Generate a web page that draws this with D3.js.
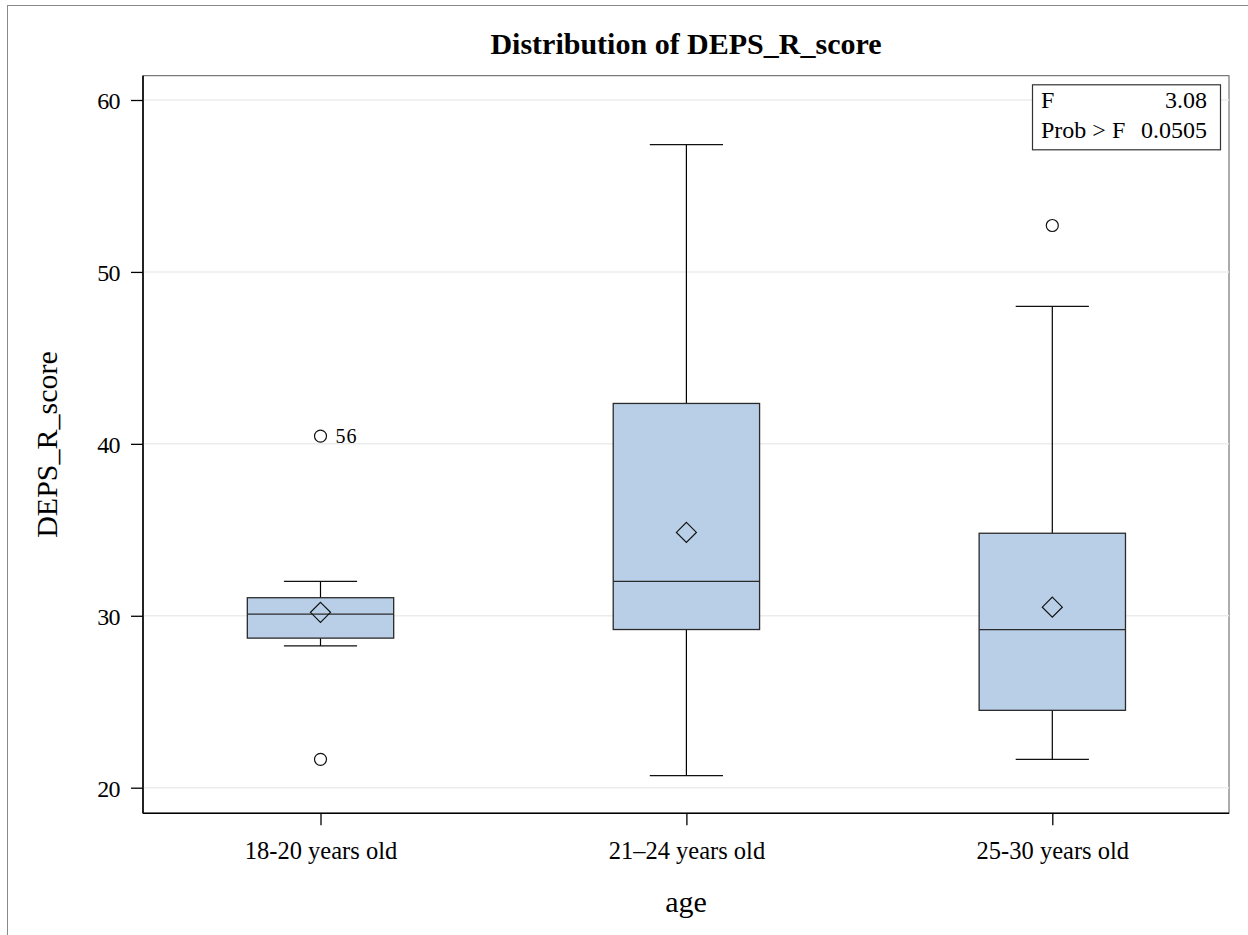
<!DOCTYPE html>
<html>
<head>
<meta charset="utf-8">
<script src="https://cdn.jsdelivr.net/npm/d3@7"></script>
<style>
  html, body { margin: 0; padding: 0; background: #ffffff; }
  svg { display: block; }
  text { font-family: "Liberation Serif", "Times New Roman", Times, serif; fill: #000; }
</style>
</head>
<body>
<svg id="chart" width="1248" height="935"></svg>
<script>
// Age groups and the five-number summaries of DEPS_R_score per group
const categories = ["18-20 years old", "21\u201324 years old", "25-30 years old"];
const whiskerLow  = [28.25, 20.7, 21.65];
const q1          = [28.7, 29.2, 24.5];
const medians     = [30.1, 32.0, 29.2];
const q3          = [31.05, 42.35, 34.8];
const whiskerHigh = [32.0, 57.4, 48.0];
const means       = [30.2, 34.85, 30.5];

// Outlying observations (group index, value, observation id)
const outlierGroups = [0, 0, 2];
const outlierValues = [40.45, 21.65, 52.7];
const outlierIds    = ["56", "", ""];

// ANOVA inset
const statLabels = ["F", "Prob > F"];
const statValues = ["3.08", "0.0505"];

const yTicks = [20, 30, 40, 50, 60];

const serif = "'Liberation Serif', 'Times New Roman', Times, serif";
const svg = d3.select("#chart");

// Layout of the plot wall
const wall = { left: 143, right: 1229, top: 75.7, bottom: 813.3 };

const y = d3.scaleLinear().domain([20, 60]).range([787.7, 100]);
const x = d3.scalePoint().domain(categories).range([320.5, 1052.3]);
const boxW = x.step() * 0.4;
const capW = boxW / 2;

// Outer graph frame
svg.append("rect")
  .attr("x", 7.5).attr("y", 5.5)
  .attr("width", 1260).attr("height", 950)
  .attr("fill", "none").attr("stroke", "#8a8a8a").attr("stroke-width", 1);

// Title
svg.append("text")
  .attr("x", (wall.left + wall.right) / 2).attr("y", 54)
  .attr("text-anchor", "middle")
  .attr("font-family", serif)
  .style("font-size", "30px").style("font-weight", "bold")
  .text("Distribution of DEPS_R_score");

// Wall background and frame
svg.append("rect")
  .attr("x", wall.left).attr("y", wall.top)
  .attr("width", wall.right - wall.left).attr("height", wall.bottom - wall.top)
  .attr("fill", "#ffffff").attr("stroke", "#5a5a5a").attr("stroke-width", 1);

// Horizontal grid lines
svg.append("g")
  .selectAll("line").data(yTicks).join("line")
  .attr("x1", wall.left).attr("x2", wall.right)
  .attr("y1", d => y(d)).attr("y2", d => y(d))
  .attr("stroke", "#ececec").attr("stroke-width", 1.5);

// Y axis
const yAxis = svg.append("g")
  .attr("transform", `translate(${wall.left},0)`)
  .call(d3.axisLeft(y).tickValues(yTicks).tickSize(12).tickPadding(11).tickFormat(d3.format("d")))
  .attr("font-family", serif);
yAxis.select(".domain").remove();
yAxis.selectAll(".tick line").attr("stroke", "#000").attr("stroke-width", 1.3);
yAxis.selectAll(".tick text")
  .style("font-size", "24px")
  .style("letter-spacing", "-0.6px")
  .attr("dy", "0.36em");

// X axis
const xAxis = svg.append("g")
  .attr("transform", `translate(0,${wall.bottom})`)
  .call(d3.axisBottom(x).tickSize(12).tickPadding(16))
  .attr("font-family", serif);
xAxis.select(".domain").remove();
xAxis.selectAll(".tick line").attr("stroke", "#000").attr("stroke-width", 1.3);
xAxis.selectAll(".tick text")
  .style("font-size", "24.5px")
  .attr("dy", "0.71em");

// Axis lines
svg.append("line")
  .attr("x1", wall.left).attr("x2", wall.left)
  .attr("y1", wall.top).attr("y2", wall.bottom)
  .attr("stroke", "#000").attr("stroke-width", 1.6);
svg.append("line")
  .attr("x1", wall.left).attr("x2", wall.right)
  .attr("y1", wall.bottom).attr("y2", wall.bottom)
  .attr("stroke", "#000").attr("stroke-width", 1.6);

// Axis labels
svg.append("text")
  .attr("transform", `translate(57,${(wall.top + wall.bottom) / 2}) rotate(-90)`)
  .attr("text-anchor", "middle")
  .attr("font-family", serif)
  .style("font-size", "30px")
  .text("DEPS_R_score");
svg.append("text")
  .attr("x", (wall.left + wall.right) / 2).attr("y", 912)
  .attr("text-anchor", "middle")
  .attr("font-family", serif)
  .style("font-size", "30px")
  .text("age");

// Box plot elements
const groups = categories.map((c, i) => ({
  cat: c, lo: whiskerLow[i], q1: q1[i], med: medians[i], q3: q3[i], hi: whiskerHigh[i], mean: means[i]
}));

const g = svg.append("g");

// Whisker stems
g.selectAll(".stem-lo").data(groups).join("line")
  .attr("x1", d => x(d.cat)).attr("x2", d => x(d.cat))
  .attr("y1", d => y(d.lo)).attr("y2", d => y(d.q1))
  .attr("stroke", "#000").attr("stroke-width", 1.2);
g.selectAll(".stem-hi").data(groups).join("line")
  .attr("x1", d => x(d.cat)).attr("x2", d => x(d.cat))
  .attr("y1", d => y(d.hi)).attr("y2", d => y(d.q3))
  .attr("stroke", "#000").attr("stroke-width", 1.2);

// Whisker caps
["lo", "hi"].forEach(k => {
  g.selectAll(".cap-" + k).data(groups).join("line")
    .attr("x1", d => x(d.cat) - capW / 2).attr("x2", d => x(d.cat) + capW / 2)
    .attr("y1", d => y(d[k])).attr("y2", d => y(d[k]))
    .attr("stroke", "#111").attr("stroke-width", 1.3);
});

// Boxes
g.selectAll(".box").data(groups).join("rect")
  .attr("x", d => x(d.cat) - boxW / 2)
  .attr("y", d => y(d.q3))
  .attr("width", boxW)
  .attr("height", d => y(d.q1) - y(d.q3))
  .attr("fill", "#b9cfe7")
  .attr("stroke", "#2a2a2a").attr("stroke-width", 1.3);

// Medians
g.selectAll(".median").data(groups).join("line")
  .attr("x1", d => x(d.cat) - boxW / 2).attr("x2", d => x(d.cat) + boxW / 2)
  .attr("y1", d => y(d.med)).attr("y2", d => y(d.med))
  .attr("stroke", "#2a2a2a").attr("stroke-width", 1.3);

// Mean markers (diamonds)
const dia = 10;
g.selectAll(".mean").data(groups).join("path")
  .attr("d", d => {
    const cx = x(d.cat), cy = y(d.mean);
    return `M${cx},${cy - dia}L${cx + dia},${cy}L${cx},${cy + dia}L${cx - dia},${cy}Z`;
  })
  .attr("fill", "none").attr("stroke", "#111").attr("stroke-width", 1.2);

// Outliers
const outliers = outlierValues.map((v, i) => ({ cat: categories[outlierGroups[i]], v, id: outlierIds[i] }));
g.selectAll(".outlier").data(outliers).join("circle")
  .attr("cx", d => x(d.cat)).attr("cy", d => y(d.v))
  .attr("r", 6)
  .attr("fill", "#fff").attr("stroke", "#111").attr("stroke-width", 1.2);
g.selectAll(".outlier-id").data(outliers.filter(d => d.id)).join("text")
  .attr("x", d => x(d.cat) + 15).attr("y", d => y(d.v))
  .attr("dy", "0.35em")
  .attr("font-family", serif)
  .style("font-size", "20px").style("letter-spacing", "1px")
  .text(d => d.id);

// ANOVA inset table
const inset = { x: 1032, y: 84.3, w: 188, h: 65 };
svg.append("rect")
  .attr("x", inset.x + 0.5).attr("y", inset.y + 0.5)
  .attr("width", inset.w).attr("height", inset.h)
  .attr("fill", "#fff").attr("stroke", "#333").attr("stroke-width", 1.2);
const rowY = [108.3, 138.3];
svg.append("g").selectAll("text").data(statLabels).join("text")
  .attr("x", inset.x + 9).attr("y", (d, i) => rowY[i])
  .attr("font-family", serif)
  .style("font-size", "24px")
  .text(d => d);
svg.append("g").selectAll("text").data(statValues).join("text")
  .attr("x", inset.x + inset.w - 13).attr("y", (d, i) => rowY[i])
  .attr("text-anchor", "end")
  .attr("font-family", serif)
  .style("font-size", "24px")
  .text(d => d);
</script>
</body>
</html>
